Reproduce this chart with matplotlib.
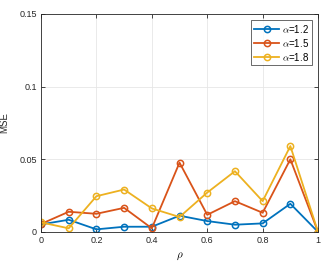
import numpy as np
import matplotlib
matplotlib.use("Agg")
import matplotlib.pyplot as plt

# data
rho = [0, 0.1, 0.2, 0.3, 0.4, 0.5, 0.6, 0.7, 0.8, 0.9, 1.0]
mse_a12 = [0.0052, 0.0084, 0.0018, 0.0036, 0.0036, 0.0112, 0.0075, 0.0050, 0.0059, 0.0194, 0.0]
mse_a15 = [0.0055, 0.0139, 0.0125, 0.0166, 0.0025, 0.0477, 0.0118, 0.0212, 0.0132, 0.0500, 0.0]
mse_a18 = [0.0066, 0.0025, 0.0246, 0.0292, 0.0162, 0.0103, 0.0271, 0.0418, 0.0212, 0.0591, 0.0]
labels = [r'$\alpha$=1.2', r'$\alpha$=1.5', r'$\alpha$=1.8']

colors = ['#0072BD', '#D95319', '#EDB120']

plt.rcParams['font.family'] = ['Liberation Sans', 'DejaVu Sans']
plt.rcParams['mathtext.fontset'] = 'cm'

fig = plt.figure(figsize=(3.32, 2.63), dpi=100)
ax = fig.add_axes([0.1235, 0.118, 0.8345, 0.829])

for y, c, lab in zip([mse_a12, mse_a15, mse_a18], colors, labels):
    ax.plot(rho, y, color=c, marker='o', markersize=4.5, markerfacecolor='none',
            markeredgewidth=1.1, linewidth=1.3, label=lab)

ax.set_xlim(0, 1)
ax.set_ylim(0, 0.15)
ax.set_xticks([0, 0.2, 0.4, 0.6, 0.8, 1])
ax.set_xticklabels(['0', '0.2', '0.4', '0.6', '0.8', '1'])
ax.set_yticks([0, 0.05, 0.1, 0.15])
ax.set_yticklabels(['0', '0.05', '0.1', '0.15'])
ax.grid(True, color='#e6e6e6', linewidth=0.6)
ax.set_axisbelow(True)
ax.tick_params(direction='in', length=3, width=0.6, labelsize=6.5, colors='#262626',
               top=True, right=True, pad=3)
for s in ax.spines.values():
    s.set_color('#262626')
    s.set_linewidth(0.6)

ax.set_xlabel(r'$\rho$', fontsize=8, labelpad=4)
ax.set_ylabel('MSE', fontsize=7, color='#262626')
ax.yaxis.set_label_coords(-0.115, 0.5)

leg = ax.legend(loc='upper right', fontsize=7, frameon=True, fancybox=False,
                edgecolor='#262626', handlelength=2.6, handletextpad=0.3,
                borderpad=0.3, labelspacing=0.2, borderaxespad=0.6)
leg.get_frame().set_linewidth(0.6)

fig.savefig('out.png', dpi=100)
